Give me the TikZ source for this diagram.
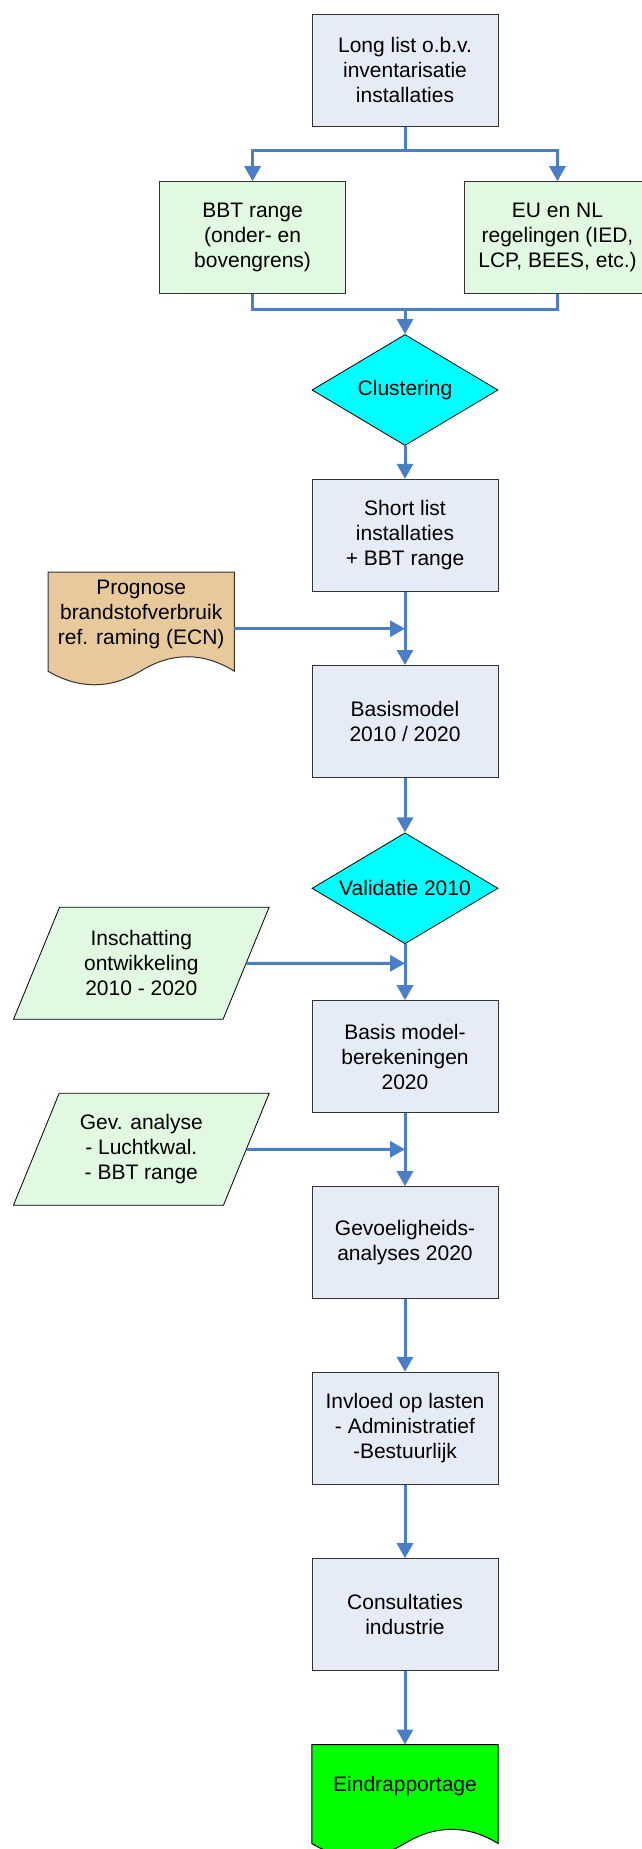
\documentclass[tikz,border=0pt]{standalone}
\usepackage{fontspec}
\setmainfont{Liberation Sans}
\usetikzlibrary{arrows.meta,shapes.geometric}
\definecolor{lnblue}{HTML}{4A7EC6}
\definecolor{boxfill}{HTML}{E6ECF7}
\definecolor{grnfill}{HTML}{E0F9E0}
\definecolor{tanfill}{HTML}{E8C99B}
\definecolor{bordc}{HTML}{333333}
\definecolor{decfill}{HTML}{00FFFF}
\definecolor{endfill}{HTML}{00FF00}
\begin{document}
\begin{tikzpicture}[x=1pt,y=-1pt,
  txt/.style={font=\fontsize{21}{25}\selectfont, align=center, inner sep=0pt},
  procbox/.style={txt, rectangle, draw=bordc, line width=1pt, fill=boxfill,
    minimum width=186pt, minimum height=112pt},
  grnbox/.style={procbox, fill=grnfill},
  decision/.style={txt, diamond, draw=black, line width=0.8pt, fill=decfill,
    shape aspect=1.676, minimum width=186pt, minimum height=111pt},
  inbox/.style={txt, trapezium, trapezium left angle=63.8, trapezium right angle=116.2,
    trapezium stretches=true, minimum width=256pt, minimum height=112pt,
    draw=black, line width=0.8pt, fill=grnfill},
  docframe/.style={rectangle, inner sep=0pt, minimum width=186pt, minimum height=98.6pt},
  conn/.style={draw=lnblue, line width=3pt},
  arr/.style={conn, -{Triangle[length=15pt,width=16pt]}}
]
\useasboundingbox (0,0) rectangle (642,1849);
\clip (0,0) rectangle (642,1849);
\fill[white] (0,0) rectangle (642,1849);

% process boxes
\node[procbox] (long) at (405,70.3) {Long list o.b.v.\\inventarisatie\\installaties};
\node[grnbox] (bbt) at (252.6,237.7) {BBT range\\(onder- en\\bovengrens)};
\node[grnbox] (eu) at (557.5,237.7) {EU en NL\\regelingen (IED,\\LCP, BEES, etc.)};
\node[decision] (clus) at (405,390) {Clustering};
\node[procbox] (short) at (405,535.3) {Short list\\installaties\\+ BBT range};
\node[procbox] (basis) at (405,721.5) {Basismodel\\2010 / 2020};
\node[decision] (valid) at (405,888.3) {Validatie 2010};
\node[procbox] (ber) at (405,1056.7) {Basis model-\\berekeningen\\2020};
\node[procbox] (gev) at (405,1242.7) {Gevoeligheids-\\analyses 2020};
\node[procbox] (invl) at (405,1428.3) {Invloed op lasten\\- Administratief\\-Bestuurlijk};
\node[procbox] (cons) at (405,1614.7) {Consultaties\\industrie};

% input parallelograms
\node[inbox] (insch) at (141.3,963.3) {Inschatting\\ontwikkeling\\2010 - 2020};
\node[inbox] (gevin) at (141.3,1149.3) {Gev. analyse\\- Luchtkwal.\\- BBT range};

% document shapes
\node[docframe] (prog) at (141.2,621.7) {};
\filldraw[fill=tanfill, draw=bordc, line width=1pt]
  (prog.south west) -- (prog.north west) -- (prog.north east) -- (prog.south east)
  .. controls (203.1,652) and (172.1,652) .. (141.2,670.7)
  .. controls (110.2,689.4) and (79.3,689.4) .. (prog.south west) -- cycle;
\node[txt] (progtxt) at (141.2,614) {Prognose\\brandstofverbruik\\ref. raming (ECN)};

\node[docframe] (eind) at (405,1794) {};
\filldraw[fill=endfill, draw=black, line width=1pt]
  (eind.south west) -- (eind.north west) -- (eind.north east) -- (eind.south east)
  .. controls (467,1824.6) and (436,1824.6) .. (405,1843.3)
  .. controls (374,1862) and (343,1862) .. (eind.south west) -- cycle;
\node[txt] (eindtxt) at (405,1786) {Eindrapportage};

% junction points
\coordinate (split) at (405,150.7);
\coordinate (merge) at (405,309.3);
\coordinate (j0) at (405,628.7);
\coordinate (j1) at (405,963.3);
\coordinate (j2) at (405,1149.3);

% connectors
\draw[conn] (long.south) -- (split);
\draw[arr] (split) -| (bbt.north);
\draw[arr] (split) -| (eu.north);
\draw[conn] (bbt.south) |- (merge);
\draw[conn] (eu.south) |- (merge);
\draw[arr] (merge) -- (clus.north);
\draw[arr] (clus.south) -- (short.north);
\draw[arr] (short.south) -- (basis.north);
\draw[arr] ([yshift=-7pt]prog.east) -- (j0);
\draw[arr] (basis.south) -- (valid.north);
\draw[arr] (valid.south) -- (ber.north);
\draw[arr] (insch.east) -- (j1);
\draw[arr] (ber.south) -- (gev.north);
\draw[arr] (gevin.east) -- (j2);
\draw[arr] (gev.south) -- (invl.north);
\draw[arr] (invl.south) -- (cons.north);
\draw[arr] (cons.south) -- (eind.north);
\end{tikzpicture}
\end{document}
